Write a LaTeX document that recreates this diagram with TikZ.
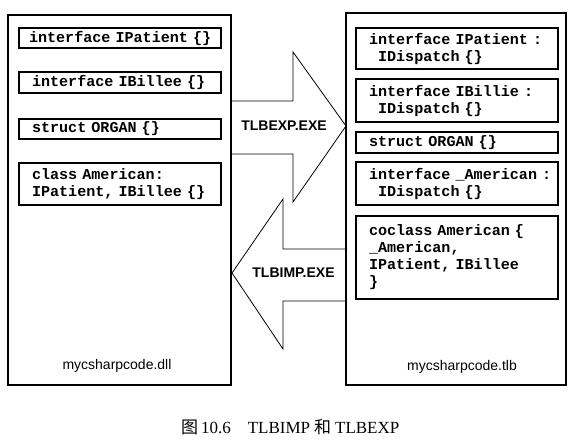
\documentclass[tikz,border=0pt]{standalone}
\usepackage{fontspec}
\setmainfont{Liberation Serif}
\newfontfamily\codefont{Liberation Mono}
\newfontfamily\labfont{Liberation Sans}
\newfontfamily\cjk{Noto Sans CJK SC}
\hbadness=10000 \hfuzz=50pt
\newcommand{\codesetup}{\codefont\bfseries\fontsize{15.1}{17}\selectfont\spaceskip=0.6em plus 0pt minus 0pt\xspaceskip=0.6em\relax}
\newcommand{\cl}[1]{\mbox{#1}}
\begin{document}
\begin{tikzpicture}[x=1pt,y=-1pt,
  outer/.style={draw, line width=1.2pt, inner sep=0pt},
  codebox/.style={draw, line width=1.4pt, text width=176pt, inner xsep=13pt, inner ysep=0pt,
    align=left, font=\codesetup},
  arrowshape/.style={draw, line width=0.8pt, line join=miter},
  arrowlabel/.style={font=\labfont\bfseries\fontsize{14}{16}\selectfont, inner sep=0pt},
  filelabel/.style={font=\labfont\fontsize{14}{16}\selectfont, inner sep=0pt}]
\useasboundingbox (0,0) rectangle (573,443);

% outer boxes
\node[outer, minimum width=223pt, minimum height=370pt] (dll) at (119.5,200) {};
\node[outer, minimum width=220pt, minimum height=372pt] (tlb) at (456,199) {};

% left inner boxes
\node[codebox, minimum height=20pt] (l1) at (120,38) {\cl{\hspace*{-3pt}interface IPatient \{\}}};
\node[codebox, minimum height=21pt] (l2) at (120,82.5) {\cl{interface IBillee \{\}}};
\node[codebox, minimum height=20pt] (l3) at (120,129) {\cl{struct ORGAN \{\}}};
\node[codebox, minimum height=42pt] (l4) at (120,184) {\cl{class American:}\\\cl{IPatient, IBillee \{\}}};

% right inner boxes
\node[codebox, minimum height=41pt] (r1) at (457,48.5) {\cl{interface IPatient :}\\\cl{\hphantom{x}IDispatch \{\}}};
\node[codebox, minimum height=43pt] (r2) at (457,100.5) {\cl{interface IBillie :}\\\cl{\hphantom{x}IDispatch \{\}}};
\node[codebox, minimum height=21pt] (r3) at (457,142.5) {\cl{struct ORGAN \{\}}};
\node[codebox, minimum height=43pt] (r4) at (457,183.5) {\cl{interface \_American :}\\\cl{\hphantom{x}IDispatch \{\}}};
\node[codebox, minimum height=83pt] (r5) at (457,257.5) {\cl{coclass American \{}\\\cl{\_American,}\\\cl{IPatient, IBillee}\\\cl{\}}};

% file labels
\node[filelabel] (dllname) at (117,366) {mycsharpcode.dll};
\node[filelabel] (tlbname) at (462,367) {mycsharpcode.tlb};

% block arrows
\draw[arrowshape] (231,101) -- (293,101) -- (293,52) -- (346,126) -- (293,202) -- (293,154) -- (231,154);
\draw[arrowshape] (346,249) -- (283,249) -- (283,199) -- (232,273) -- (283,349) -- (283,301) -- (346,301);
\node[arrowlabel] (exp) at (284,126) {TLBEXP.EXE};
\node[arrowlabel] (imp) at (293.5,273) {TLBIMP.EXE};

% caption
\node[font=\fontsize{17}{19}\selectfont, inner sep=0pt, anchor=base west] (cap) at (181,433)
  {{\cjk 图}\,10.6\quad TLBIMP\hspace{4pt}{\cjk 和}\hspace{4pt}TLBEXP};
\end{tikzpicture}
\end{document}
